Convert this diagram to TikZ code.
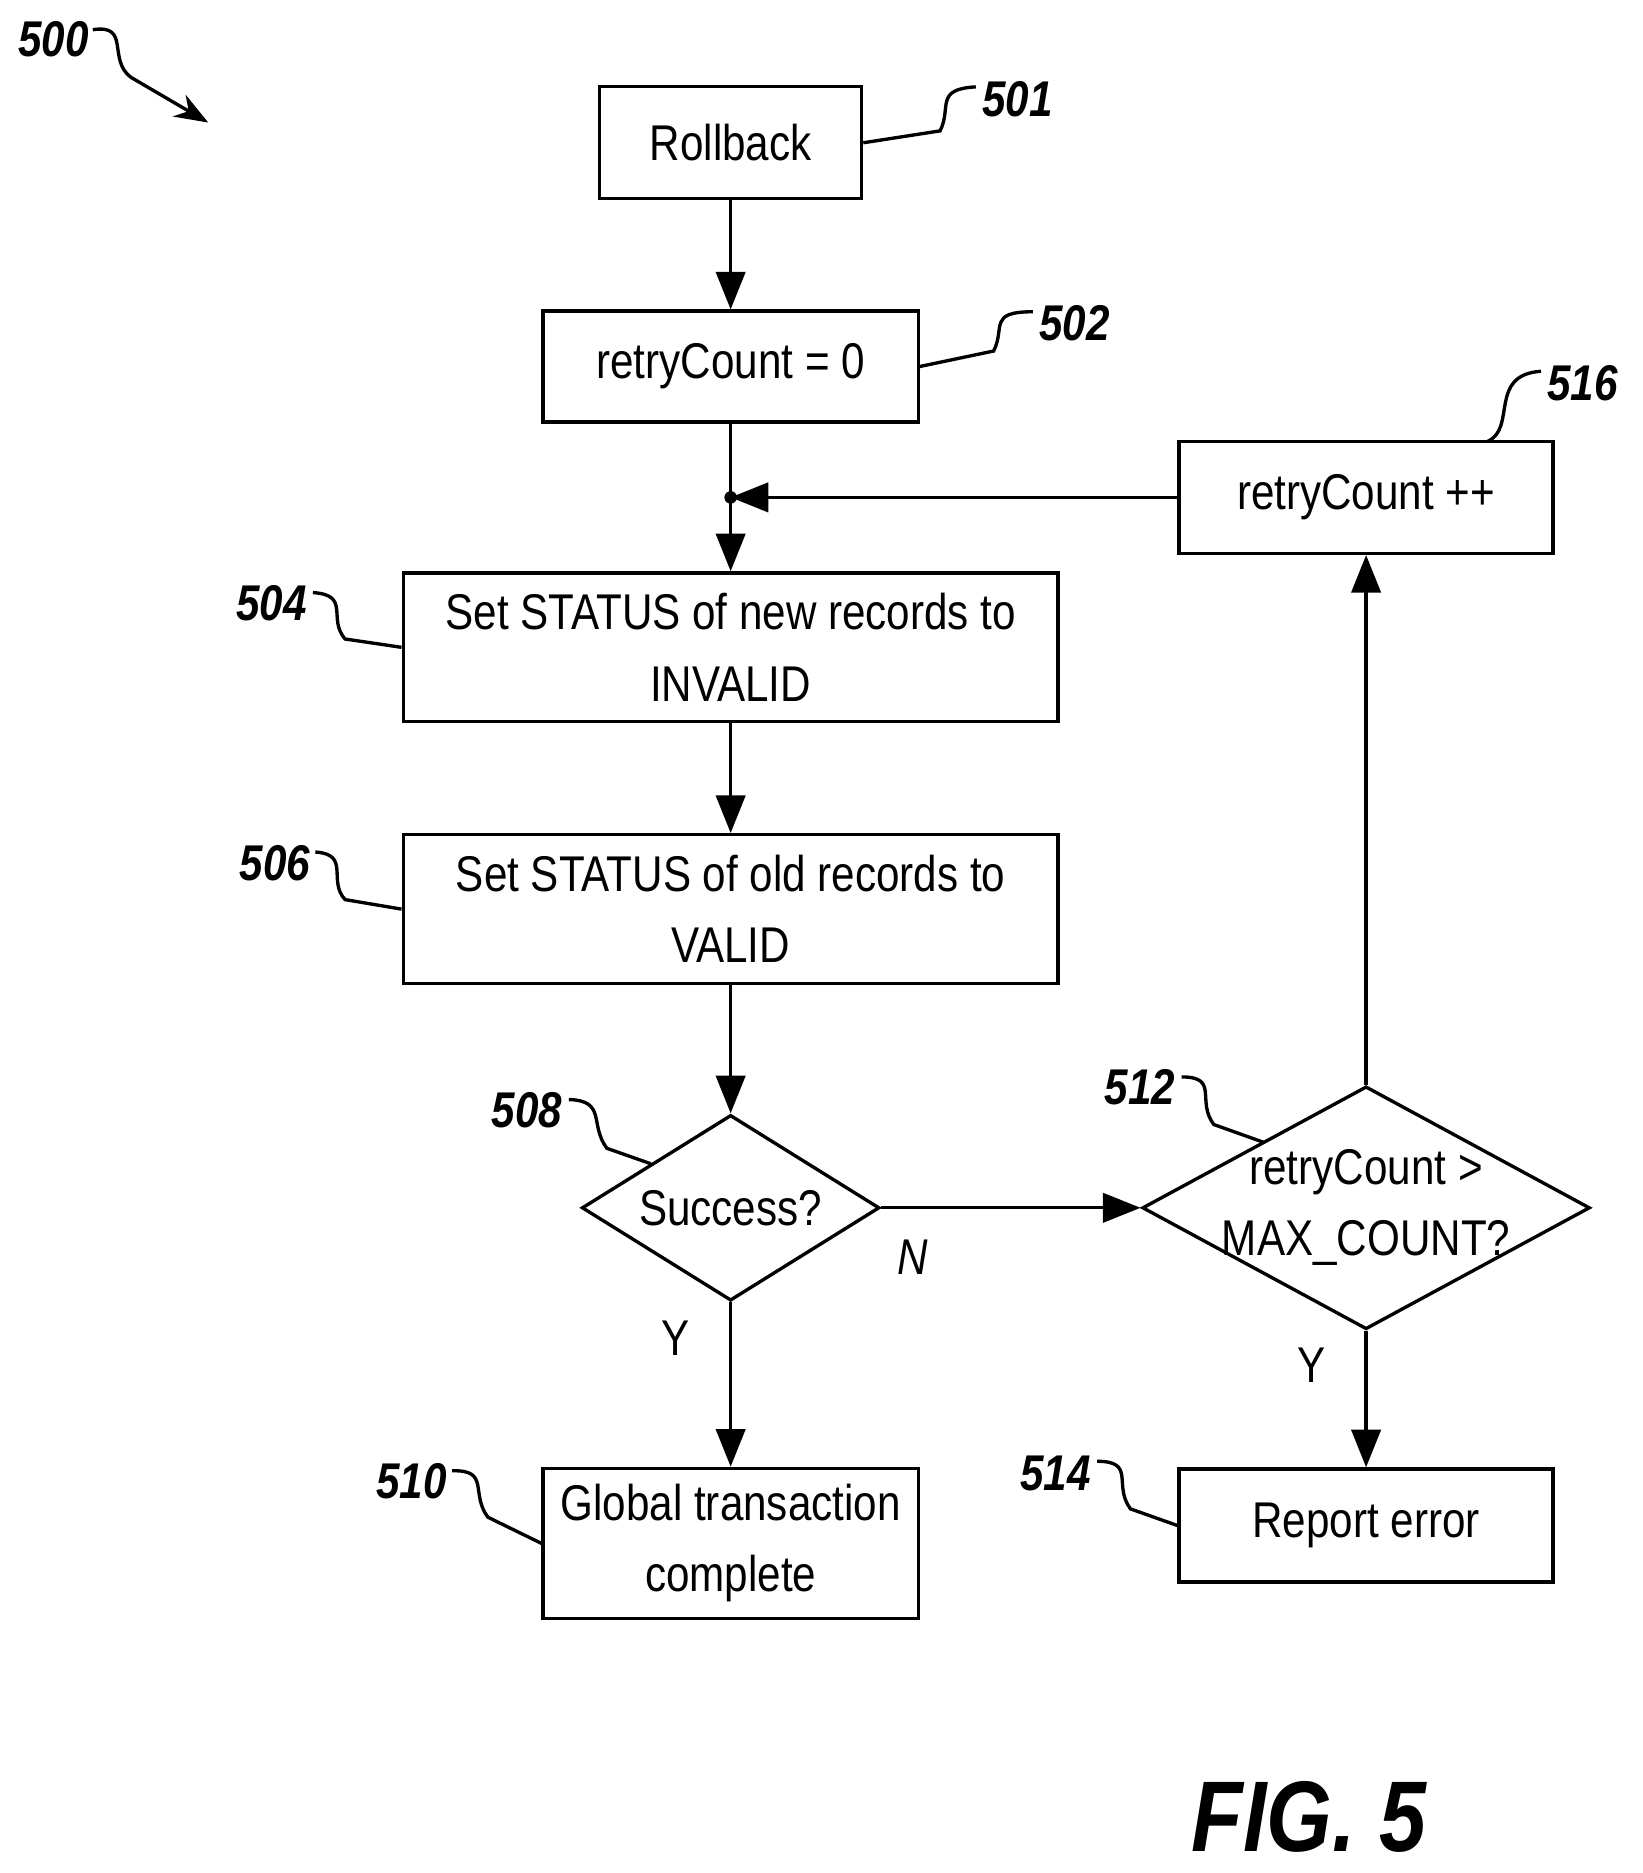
\documentclass[tikz,border=0pt]{standalone}
\usepackage{fontspec}
\setmainfont{Liberation Sans}[FakeStretch=0.84]
\usetikzlibrary{shapes.geometric}
\usetikzlibrary{arrows.meta}

\tikzset{
    block/.style={draw, thick, align=center, font=\fontsize{12}{17}\selectfont, inner sep=0pt},
    decision/.style={draw, thick, diamond, align=center, font=\fontsize{12}{17}\selectfont, inner sep=0pt},
    flow/.style={thick, -{Triangle[length=9pt,width=7pt]}},
    tag/.style={font=\bfseries\itshape\fontsize{12}{15}\selectfont},
    lead/.style={thick},
}

\begin{document}
\begin{tikzpicture}[x=0.01cm, y=-0.01cm]

\useasboundingbox (0,0) rectangle (1380,1574);

% Boxes
\node[block, minimum width=2.2cm, minimum height=0.94cm] (Rollback) at (614,120) {Rollback};
\node[block, minimum width=3.15cm, minimum height=0.93cm] (Reset) at (614,308) {retryCount = 0};
\node[block, minimum width=3.14cm, minimum height=0.94cm] (Incr) at (1148,418) {retryCount ++};
\node[block, minimum width=5.5cm, minimum height=1.25cm] (SetNew) at (614,544) {Set STATUS of new records to\\INVALID};
\node[block, minimum width=5.5cm, minimum height=1.25cm] (SetOld) at (614,764) {Set STATUS of old records to\\VALID};
\node[decision, minimum width=2.5cm, minimum height=1.56cm, aspect=1.6, inner xsep=-0.2cm] (Success) at (614,1015) {Success?};
\node[decision, minimum width=3.76cm, minimum height=2.04cm, aspect=1.84, inner xsep=-0.45cm, inner ysep=-0.1cm] (Check) at (1148,1015) {retryCount >\\MAX\_COUNT?};
\node[block, minimum width=3.15cm, minimum height=1.26cm] (Done) at (614,1297) {Global transaction\\complete};
\node[block, minimum width=3.14cm, minimum height=0.95cm] (Error) at (1148,1282) {Report error};

% Junction
\coordinate (Join) at (614,418);
\fill (Join) circle (1.5pt);

% Flow
\draw[flow] (Rollback) -- (Reset);
\draw[thick] (Reset) -- (Join);
\draw[flow] (Join) -- (SetNew);
\draw[flow] (Incr) -- (Join);
\draw[flow] (SetNew) -- (SetOld);
\draw[flow] (SetOld) -- (Success);
\draw[flow] (Success) -- (Done) node[pos=0.22, left=6pt, font=\fontsize{12}{15}\selectfont] {Y};
\draw[flow] (Success) -- (Check) node[pos=0.12, below=4pt, font=\itshape\fontsize{12}{15}\selectfont] {N};
\draw[flow] (Check) -- (Error) node[pos=0.25, left=6pt, font=\fontsize{12}{15}\selectfont] {Y};
\draw[flow] (Check) -- (Incr);

% Reference numerals
\node[tag] (T500) at (45,33) {500};
\node[tag] (T501) at (855,83) {501};
\node[tag] (T502) at (903,272) {502};
\node[tag] (T516) at (1330,322) {516};
\node[tag] (T504) at (228,507) {504};
\node[tag] (T506) at (231,725) {506};
\node[tag] (T508) at (443,933) {508};
\node[tag] (T510) at (346,1245) {510};
\node[tag] (T512) at (958,914) {512};
\node[tag] (T514) at (887,1238) {514};
\node[font=\bfseries\itshape\fontsize{24}{26}\selectfont] (Fig) at (1100,1527) {FIG. 5};

% Leaders
\draw[lead, -{Stealth[length=8pt]}] (78,25) .. controls (110,20) and (90,50) .. (110,65) -- (175,103);
\draw[lead] (Rollback.east) -- (790,110) .. controls (800,90) and (785,75) .. (820,73);
\draw[lead] (Reset.east) -- (835,295) .. controls (845,275) and (830,262) .. (868,262);
\draw[lead] (1250,371) .. controls (1275,360) and (1250,315) .. (1295,312);
\draw[lead] (SetNew.west) -- (290,537) .. controls (275,520) and (295,500) .. (263,498);
\draw[lead] (SetOld.west) -- (290,756) .. controls (275,740) and (295,718) .. (265,716);
\draw[lead] (547,978) -- (510,965) .. controls (495,945) and (510,925) .. (478,924);
\draw[lead] (Done.west) -- (410,1275) .. controls (395,1255) and (412,1235) .. (380,1236);
\draw[lead] (1062,960) -- (1020,945) .. controls (1005,925) and (1025,905) .. (993,905);
\draw[lead] (Error.west) -- (950,1268) .. controls (935,1248) and (955,1228) .. (922,1228);

\end{tikzpicture}
\end{document}
